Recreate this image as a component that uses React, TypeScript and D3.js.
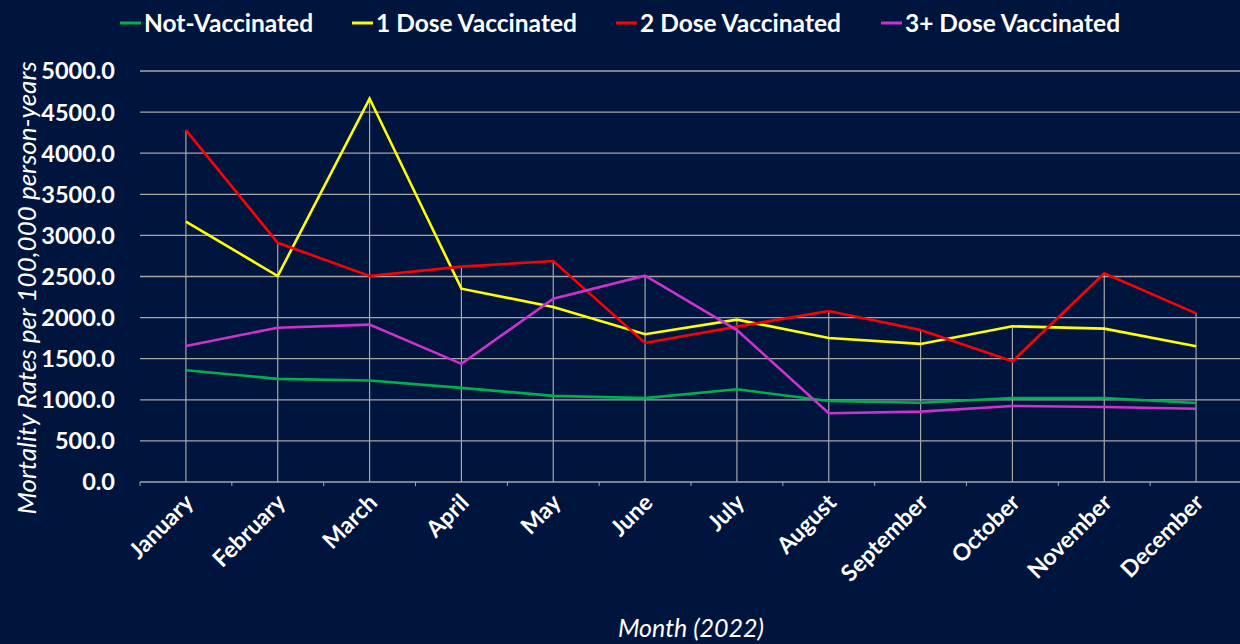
import React, { useEffect, useRef } from 'react';
import * as d3 from 'd3';

const months = [
  'January', 'February', 'March', 'April', 'May', 'June',
  'July', 'August', 'September', 'October', 'November', 'December',
];

const notVaccinated = [1360, 1255, 1235, 1145, 1048, 1020, 1128, 985, 965, 1022, 1022, 962];
const oneDose = [3168, 2506, 4665, 2352, 2130, 1798, 1975, 1752, 1680, 1894, 1866, 1652];
const twoDose = [4280, 2910, 2506, 2620, 2688, 1692, 1890, 2080, 1850, 1468, 2539, 2052];
const threeDose = [1655, 1877, 1914, 1437, 2230, 2510, 1849, 836, 856, 925, 912, 892];

const yTicks = [0, 500, 1000, 1500, 2000, 2500, 3000, 3500, 4000, 4500, 5000];

const seriesList = [
  { name: 'Not-Vaccinated', values: notVaccinated, color: '#00b050' },
  { name: '1 Dose Vaccinated', values: oneDose, color: '#ffff00' },
  { name: '2 Dose Vaccinated', values: twoDose, color: '#ff0000' },
  { name: '3+ Dose Vaccinated', values: threeDose, color: '#cc33cc' },
];

const W = 1240;
const H = 644;
const FONT = 'Lato, "Open Sans", sans-serif';

export default function App() {
  const ref = useRef<SVGSVGElement | null>(null);

  useEffect(() => {
    const svg = d3.select(ref.current);
    svg.selectAll('*').remove();

    const margin = { top: 71, right: -2, bottom: 162, left: 140 };
    const width = W - margin.left - margin.right;
    const height = H - margin.top - margin.bottom;

    svg.append('rect').attr('width', W).attr('height', H).style('fill', '#00153e');

    const x = d3.scaleBand<string>().domain(months).range([0, width]).padding(0);
    const y = d3.scaleLinear().domain([0, 5000]).range([height, 0]);
    const cx = (m: string) => (x(m) as number) + x.bandwidth() / 2;

    const chart = svg
      .append('g')
      .attr('transform', 'translate(' + margin.left + ',' + margin.top + ')');

    // horizontal gridlines
    chart
      .selectAll()
      .data(yTicks)
      .enter()
      .append('line')
      .attr('x1', 0)
      .attr('x2', width)
      .attr('y1', (d) => y(d))
      .attr('y2', (d) => y(d))
      .style('stroke', '#a6a6a6')
      .style('stroke-width', 1.3);

    // drop lines from the highest series value down to the axis
    const maxes = months.map((m, i) => ({
      month: m,
      value: d3.max(seriesList, (s) => s.values[i]) as number,
    }));
    chart
      .selectAll()
      .data(maxes)
      .enter()
      .append('line')
      .attr('x1', (d) => cx(d.month))
      .attr('x2', (d) => cx(d.month))
      .attr('y1', (d) => y(d.value))
      .attr('y2', height)
      .style('stroke', '#a6a6a6')
      .style('stroke-width', 1.2);

    // small tick marks between categories
    chart
      .selectAll()
      .data(months)
      .enter()
      .append('line')
      .attr('x1', (d) => x(d) as number)
      .attr('x2', (d) => x(d) as number)
      .attr('y1', height)
      .attr('y2', height + 4)
      .style('stroke', '#a6a6a6')
      .style('stroke-width', 1);

    const line = d3
      .line<number>()
      .x((d, i) => cx(months[i]))
      .y((d) => y(d));

    seriesList.forEach((s) => {
      chart
        .append('path')
        .datum(s.values)
        .attr('d', line)
        .style('fill', 'none')
        .style('stroke', s.color)
        .style('stroke-width', 2.6)
        .style('stroke-linejoin', 'miter');
    });

    // y tick labels
    chart
      .selectAll()
      .data(yTicks)
      .enter()
      .append('text')
      .attr('x', -25)
      .attr('y', (d) => y(d))
      .attr('dy', '0.36em')
      .style('text-anchor', 'end')
      .style('font-family', FONT)
      .style('font-size', '23.5px')
      .style('font-weight', 'bold')
      .style('fill', 'white')
      .text((d) => d3.format('.1f')(d));

    // x tick labels
    chart
      .selectAll()
      .data(months)
      .enter()
      .append('text')
      .attr('transform', (d) => 'translate(' + (cx(d) + 9) + ',' + (height + 22) + ') rotate(-45)')
      .style('text-anchor', 'end')
      .style('font-family', FONT)
      .style('font-size', '23px')
      .style('font-weight', 'bold')
      .style('fill', 'white')
      .text((d) => d);

    // axis titles
    svg
      .append('text')
      .attr('transform', 'translate(36,' + 288 + ') rotate(-90)')
      .style('text-anchor', 'middle')
      .style('font-family', FONT)
      .style('font-size', '26px')
      .style('font-style', 'italic')
      .style('fill', 'white')
      .text('Mortality Rates per 100,000 person-years');

    svg
      .append('text')
      .attr('x', 691)
      .attr('y', 637)
      .style('text-anchor', 'middle')
      .style('font-family', FONT)
      .style('font-size', '25px')
      .style('font-style', 'italic')
      .style('fill', 'white')
      .text('Month (2022)');

    // legend
    const legendX = [120, 352, 616, 881];
    const legend = svg
      .selectAll()
      .data(seriesList)
      .enter()
      .append('g')
      .attr('transform', (d, i) => 'translate(' + legendX[i] + ',23)');
    legend
      .append('line')
      .attr('x1', 0)
      .attr('x2', 21)
      .style('stroke', (d) => d.color)
      .style('stroke-width', 3);
    legend
      .append('text')
      .attr('x', 24)
      .attr('dy', '0.36em')
      .style('font-family', FONT)
      .style('font-size', '24.5px')
      .style('font-weight', 'bold')
      .style('fill', 'white')
      .text((d) => d.name);
  }, []);

  return (
    <>
      <style>{'body{margin:0;background:#00153e}'}</style>
      <svg ref={ref} width={W} height={H} style={{ display: 'block' }} />
    </>
  );
}
